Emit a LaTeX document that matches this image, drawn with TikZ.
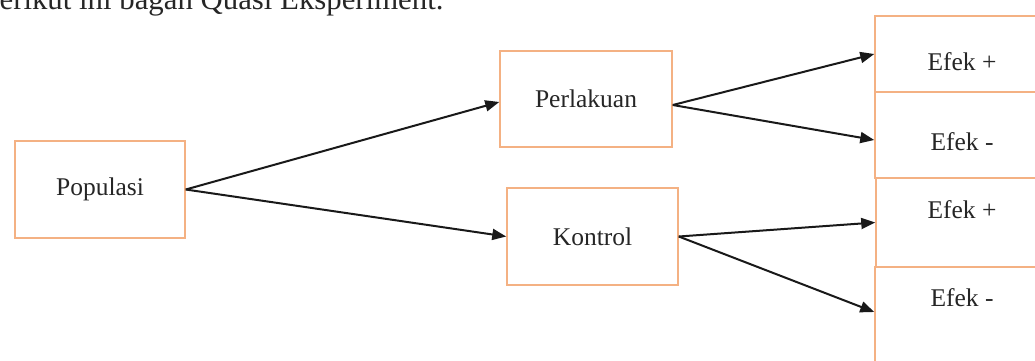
\documentclass[tikz,border=0pt]{standalone}
\usepackage{fontspec}
\setmainfont{Liberation Serif}
\usetikzlibrary{arrows.meta}
\definecolor{boxorange}{HTML}{F4B183}
\definecolor{txt}{HTML}{262626}
\begin{document}
\begin{tikzpicture}[x=1pt,y=-1pt,
  box/.style={draw=boxorange, line width=1.5pt, fill=white, inner sep=0pt},
  lbl/.style={font=\fontsize{25.5}{30}\selectfont, text=txt, inner sep=0pt},
  conn/.style={line width=2pt, draw=black!90, -{Triangle[length=14pt,width=11pt]}}]
\useasboundingbox (0,0) rectangle (1035,361);
\clip (0,0) rectangle (1035,361);
\node[anchor=base west, inner sep=0pt, font=\fontsize{30.8}{36}\selectfont, text=txt] (head) at (-16,10) {berikut ini bagan Quasi Eksperiment.};
% main boxes
\node[box, lbl, minimum width=170pt, minimum height=97pt] (pop) at (100,189.5) {Populasi};
\node[box, lbl, minimum width=172pt, minimum height=96pt] (per) at (586,99) {Perlakuan};
\node[box, lbl, minimum width=171pt, minimum height=97pt] (kon) at (592.5,236.5) {Kontrol};
% effect boxes
\node[box, minimum width=174pt, minimum height=76pt] (e1) at (962,54) {};
\node[box, minimum width=174pt, minimum height=86pt] (e2) at (962,135) {};
\node[box, minimum width=174pt, minimum height=89pt] (e3) at (963,222.5) {};
\node[box, minimum width=174pt, minimum height=98pt] (e4) at (962,316) {};
\node[lbl] (t1) at (962,62) {Efek +};
\node[lbl] (t2) at (962,142) {Efek -};
\node[lbl] (t3) at (962,210) {Efek +};
\node[lbl] (t4) at (962,298) {Efek -};
% connectors
\draw[conn] (pop.east) -- ([yshift=-3pt]per.west);
\draw[conn] (pop.east) -- (kon.west);
\draw[conn] ([yshift=-6pt]per.east) -- (e1.west);
\draw[conn] ([yshift=-6pt]per.east) -- ([yshift=-5pt]e2.west);
\draw[conn] (kon.east) -- (e3.west);
\draw[conn] (kon.east) -- ([yshift=4pt]e4.west);
\end{tikzpicture}
\end{document}
